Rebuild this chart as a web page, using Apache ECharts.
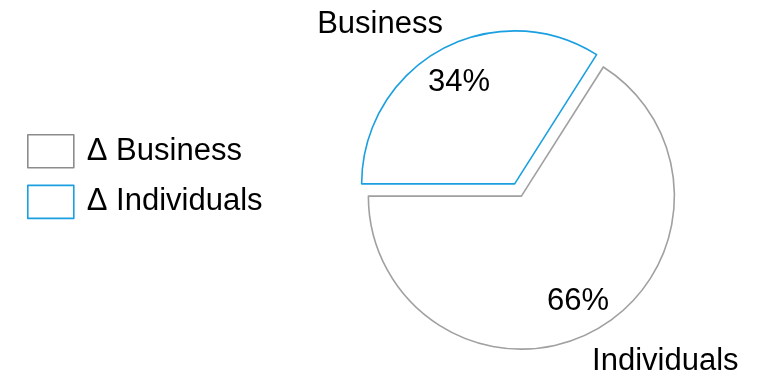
<!DOCTYPE html>
<html>
<head>
<meta charset="utf-8">
<script src="https://cdn.jsdelivr.net/npm/echarts@6/dist/echarts.min.js"></script>
<style>
  html, body { margin: 0; padding: 0; background: #fff; }
  #chart { width: 762px; height: 377px; }
</style>
</head>
<body>
<div id="chart"></div>
<script>
// slice data
const categories = ["Business", "Individuals"];
const shares = [34, 66];
const sliceColors = ["#1a9fe0", "#a0a0a0"];
// legend swaps the box colours in the original
const legendColors = ["#8c8c8c", "#1a9fe0"];

const font = "Liberation Sans, Arial, sans-serif";
const fs = 31;

const chart = echarts.init(document.getElementById("chart"));

const sliceData = categories.map((name, i) => ({
  name: name,
  value: shares[i],
  selected: true,
  itemStyle: { color: "#fff", borderColor: sliceColors[i], borderWidth: 1.6 }
}));

const pctData = categories.map((name, i) => ({
  name: name,
  value: shares[i],
  selected: true
}));

chart.setOption({
  animation: false,
  legend: {
    orient: "vertical",
    left: 27,
    top: 134,
    padding: 0,
    itemWidth: 46,
    itemHeight: 33,
    itemGap: 16,
    selectedMode: false,
    formatter: "Δ {name}",
    textStyle: { fontSize: fs, fontFamily: font, color: "#000", padding: [3, 0, 0, 8] },
    data: categories.map((name, i) => ({
      name: name,
      icon: "rect",
      itemStyle: { color: "#fff", borderColor: legendColors[i], borderWidth: 1.6 }
    }))
  },
  series: [
    {
      type: "pie",
      center: [518, 190],
      radius: [0, 153],
      startAngle: 180,
      clockwise: true,
      selectedMode: "multiple",
      selectedOffset: 7,
      silent: true,
      label: {
        show: true,
        position: "outside",
        formatter: "{b}",
        fontSize: fs,
        fontFamily: font,
        color: "#000",
        distanceToLabelLine: 0
      },
      labelLine: { show: false, length: 0, length2: 0 },
      labelLayout: function (params) {
        return params.dataIndex === 0 ? { dx: 2, dy: -25 } : { dx: -3, dy: 31 };
      },
      data: sliceData
    },
    {
      type: "pie",
      center: [518, 190],
      radius: [80, 153],
      startAngle: 180,
      clockwise: true,
      selectedMode: "multiple",
      selectedOffset: 7,
      silent: true,
      itemStyle: { color: "transparent", borderWidth: 0 },
      label: {
        show: true,
        position: "inside",
        formatter: "{d}%",
        fontSize: fs,
        fontFamily: font,
        color: "#000"
      },
      labelLine: { show: false },
      labelLayout: function (params) {
        return params.dataIndex === 0 ? { dx: 2, dy: 3 } : { dx: -1, dy: 1 };
      },
      data: pctData
    }
  ]
});
</script>
</body>
</html>
